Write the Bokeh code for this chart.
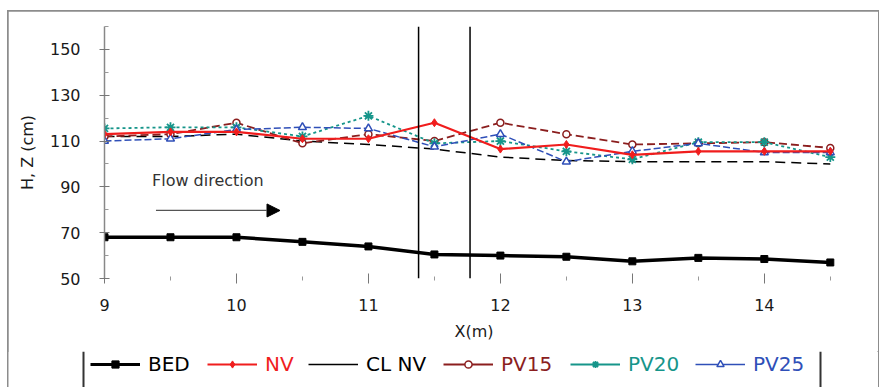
from bokeh.plotting import figure
from bokeh.layouts import column
from bokeh.models import (Range1d, FixedTicker, Span, Arrow, NormalHead, Label,
                          Legend, LegendItem)
from bokeh.embed import file_html
from bokeh.resources import INLINE

# ---- data ----
x = [9, 9.5, 10, 10.5, 11, 11.5, 12, 12.5, 13, 13.5, 14, 14.5]
bed = [68, 68, 68, 66, 64, 60.5, 60, 59.5, 57.5, 59, 58.5, 57]
nv = [113, 114, 114, 111, 111, 118, 106.5, 108.5, 104, 105.5, 105.5, 105.5]
cl_nv = [112, 112, 113, 110, 108.5, 106.5, 103, 101.5, 101, 101, 101, 100]
pv15 = [112, 113, 118, 109, 113, 110, 118, 113, 108.5, 109, 109.5, 107]
pv20 = [115.5, 116, 116, 112, 121, 109, 110, 105.5, 102, 109.5, 109.5, 103]
pv25 = [110, 111, 115, 116, 115.5, 107.5, 113, 101, 105.5, 109, 105, 105]
y_ticks = [50, 70, 90, 110, 130, 150]
x_ticks = [9, 10, 11, 12, 13, 14]
section_lines = [11.38, 11.77]
series_names = ["BED", "NV", "CL NV", "PV15", "PV20", "PV25"]

FONT = "DejaVu Sans"

# ---- styles per series ----
STY = {
    "BED": dict(line=dict(line_color="black", line_width=3.5),
                mk=dict(marker="square", size=7, color="black"), col="black"),
    "NV": dict(line=dict(line_color="#f01d1d", line_width=2.2),
               mk=dict(marker="diamond", size=8, color="#f01d1d"), col="#f01d1d"),
    "CL NV": dict(line=dict(line_color="black", line_width=1.5, line_dash="10 6"),
                  mk=None, col="black"),
    "PV15": dict(line=dict(line_color="#8b1e1e", line_width=1.8, line_dash="8 4"),
                 mk=dict(marker="circle", size=7, line_color="#8b1e1e",
                         fill_color="white", line_width=1.5), col="#8b1e1e"),
    "PV20": dict(line=dict(line_color="#16958a", line_width=1.8, line_dash="3 3"),
                 mk=dict(marker="asterisk", size=10, line_color="#16958a",
                         line_width=1.8), col="#16958a"),
    "PV25": dict(line=dict(line_color="#2f4fb8", line_width=1.5, line_dash="7 3"),
                 mk=dict(marker="triangle", size=8, line_color="#2f4fb8",
                         fill_color="white", line_width=1.5), col="#2f4fb8"),
}
values = {"BED": bed, "NV": nv, "CL NV": cl_nv, "PV15": pv15, "PV20": pv20,
          "PV25": pv25}

p = figure(width=870, height=340, output_backend="svg", toolbar_location=None,
           x_range=Range1d(9, 14.6), y_range=Range1d(50, 160),
           min_border_left=96, min_border_top=15, min_border_right=35,
           min_border_bottom=73, frame_align=False)
p.outline_line_color = None
p.grid.visible = False

# axes
p.yaxis.ticker = FixedTicker(ticks=y_ticks, minor_ticks=[60, 80, 100, 120, 140, 160])
p.xaxis.ticker = FixedTicker(ticks=x_ticks, minor_ticks=[9.5, 10.5, 11.5, 12.5, 13.5, 14.5])
for ax in (p.xaxis[0], p.yaxis[0]):
    ax.major_label_text_font = FONT
    ax.major_label_text_font_size = "16px"
    ax.major_label_text_color = "#1a1a1a"
    ax.axis_label_text_font = FONT
    ax.axis_label_text_font_size = "16px"
    ax.axis_label_text_font_style = "normal"
    ax.axis_label_text_color = "#1a1a1a"
    ax.major_tick_line_color = "#777777"
    ax.minor_tick_line_color = "#999999"
p.yaxis.axis_line_color = "#888888"
p.yaxis.axis_line_width = 1.5
p.yaxis.major_tick_in = 5
p.yaxis.major_tick_out = 5
p.yaxis.minor_tick_in = 4
p.yaxis.minor_tick_out = 0
p.yaxis.major_label_standoff = 19
p.yaxis.axis_label = "H, Z (cm)"
p.yaxis.axis_label_standoff = 10
p.xaxis.axis_line_color = None
p.xaxis.major_tick_in = 5
p.xaxis.major_tick_out = 5
p.xaxis.minor_tick_in = 2
p.xaxis.minor_tick_out = 2
p.xaxis.major_label_standoff = 15
p.xaxis.axis_label = "X(m)"
p.xaxis.axis_label_standoff = 8

# series (NV last so it sits on top)
for name in ["BED", "CL NV", "PV15", "PV20", "PV25", "NV"]:
    s = STY[name]
    p.line(x, values[name], **s["line"])
    if s["mk"]:
        p.scatter(x, values[name], **s["mk"])

for xv in section_lines:
    p.add_layout(Span(location=xv, dimension="height", line_color="black",
                      line_width=1.5))

# flow direction annotation
p.add_layout(Arrow(end=NormalHead(size=13, fill_color="black", line_color="black"),
                   x_start=9.39, y_start=79.7, x_end=10.33, y_end=79.7,
                   line_color="#555555", line_width=1.2))
p.add_layout(Label(x=9.36, y=88.5, text="Flow direction", text_font=FONT,
                   text_font_size="16px", text_color="#333333"))

# ---- legend strip (own small figure so each label has its own colour) ----
lf = figure(width=870, height=36, output_backend="svg", toolbar_location=None,
            x_range=Range1d(0, 870), y_range=Range1d(0, 36),
            min_border=0, min_border_left=0, min_border_right=0,
            min_border_top=0, min_border_bottom=0, frame_align=False)
lf.axis.visible = False
lf.grid.visible = False
lf.outline_line_color = None

legend_x = [82, 199, 300, 435, 562, 687]
for name, xoff in zip(series_names, legend_x):
    s = STY[name]
    lstyle = dict(s["line"])
    lstyle.pop("line_dash", None)  # legend keys are drawn as solid lines
    lstyle["line_width"] = min(lstyle["line_width"], 3)
    # same data as the chart; it lies outside this strip's y range, so only
    # the legend key shows
    rends = [lf.line(x, values[name], **lstyle)]
    if s["mk"]:
        mk = dict(s["mk"])
        mk["size"] = 6
        rends.append(lf.scatter(x, values[name], **mk))
    lg = Legend(items=[LegendItem(label=name, renderers=rends)],
                location=(xoff, 11), orientation="horizontal",
                glyph_width=50, glyph_height=18, label_standoff=8,
                padding=0, margin=0, spacing=0,
                border_line_color=None, background_fill_alpha=0,
                label_text_font=FONT, label_text_font_size="20px",
                label_text_color=s["col"])
    lf.add_layout(lg, "center")

for bx in [75, 812]:
    lf.add_layout(Span(location=bx, dimension="height", line_color="#333333",
                       line_width=2))

layout = column(p, lf, spacing=0)
layout.styles = {"margin-left": "8px", "margin-top": "11px",
                 "outline": "2px solid #8c8c8c", "outline-offset": "-1px"}

open("out.html", "w").write(file_html(layout, INLINE))
